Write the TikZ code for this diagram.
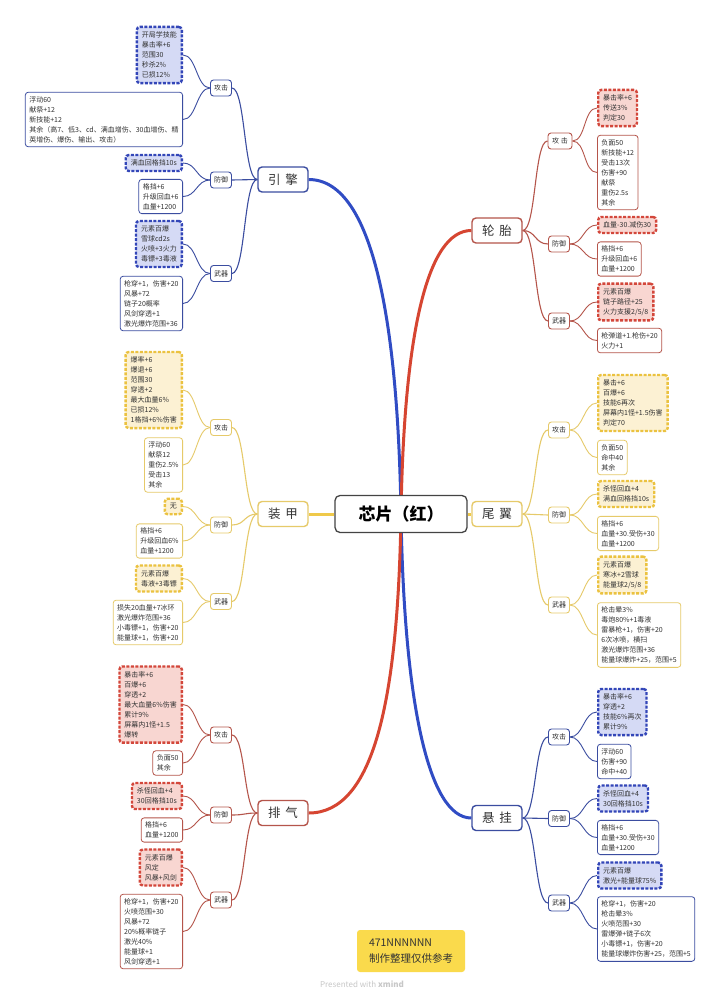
\documentclass[tikz,border=0pt]{standalone}
\usepackage{fontspec}
\setmainfont{Noto Sans CJK SC}
\usetikzlibrary{backgrounds}
\definecolor{bmain}{HTML}{304CC4}
\definecolor{bline}{HTML}{3B4DA0}
\definecolor{bdash}{HTML}{3346B8}
\definecolor{bfill}{HTML}{D5DAF5}
\definecolor{rmain}{HTML}{D64531}
\definecolor{rline}{HTML}{B5554B}
\definecolor{rdash}{HTML}{D3473B}
\definecolor{rfill}{HTML}{F8D6D1}
\definecolor{ymain}{HTML}{EFC94A}
\definecolor{yline}{HTML}{E6CA6A}
\definecolor{ydash}{HTML}{EBC240}
\definecolor{yfill}{HTML}{FCF1D3}
\definecolor{txt}{HTML}{333333}
\definecolor{notey}{HTML}{FADA4C}
\definecolor{cborder}{HTML}{444444}
\newcommand\Lc[2]{\draw (#1.west) .. controls +(-13.5,0) and +(13.5,0) .. (#2.east);}
\newcommand\Rc[2]{\draw (#1.east) .. controls +(13.5,0) and +(-13.5,0) .. (#2.west);}
\tikzset{
  lf/.style={draw, rounded corners=3pt, fill=white, line width=0.8pt, inner xsep=4pt, inner ysep=4pt, align=left, font=\fontsize{7}{10}\selectfont, text=txt},
  hotbox/.style={lf, dash pattern=on 3pt off 1.5pt, line width=2.4pt, inner xsep=5pt, inner ysep=4.8pt},
  subbox/.style={draw, rounded corners=3pt, fill=white, line width=0.9pt, minimum width=21pt, minimum height=16pt, inner sep=1pt, font=\fontsize{7}{8}\selectfont, text=txt},
  brbox/.style={draw, rounded corners=4pt, fill=white, line width=1.4pt, minimum width=50pt, minimum height=25pt, inner sep=1pt, font=\fontsize{12.5}{14}\selectfont, text=txt},
  bl/.style={lf, draw=bline}, bh/.style={hotbox, draw=bdash, fill=bfill},
  rl/.style={lf, draw=rline}, rh/.style={hotbox, draw=rdash, fill=rfill},
  yl/.style={lf, draw=yline}, yh/.style={hotbox, draw=ydash, fill=yfill},
  bs/.style={subbox, draw=bline}, rs/.style={subbox, draw=rline}, ys/.style={subbox, draw=yline},
  bb/.style={brbox, draw=bline}, rb/.style={brbox, draw=rline}, yb/.style={brbox, draw=yline},
  mainc/.style={line width=3pt},
  brc/.style={line width=1.1pt},
  lfc/.style={line width=0.9pt},
}
\begin{document}
\begin{tikzpicture}[x=1pt,y=-1pt]
\useasboundingbox (0,0) rectangle (720,999);

% center
\node[draw=cborder, line width=1.3pt, rounded corners=5pt, fill=white, minimum width=132pt, minimum height=37pt, font=\fontsize{17}{20}\selectfont\bfseries, text=black] (c) at (401,514) {芯片（红）};

% branches
\node[bb] (eng) at (283,179.5) {引\hspace{0.4em}擎};
\node[yb] (arm) at (283,514) {装\hspace{0.4em}甲};
\node[rb] (exh) at (283,813) {排\hspace{0.4em}气};
\node[rb] (tire) at (497,230.5) {轮\hspace{0.4em}胎};
\node[yb] (wing) at (497,514) {尾\hspace{0.4em}翼};
\node[bb] (susp) at (497,818) {悬\hspace{0.4em}挂};

% subs left
\node[bs] (eA) at (221,88) {攻击};
\node[bs] (eD) at (221,180) {防御};
\node[bs] (eW) at (221,273.5) {武器};
\node[ys] (aA) at (221,427.5) {攻击};
\node[ys] (aD) at (221,525) {防御};
\node[ys] (aW) at (221,601.5) {武器};
\node[rs] (xA) at (221,735) {攻击};
\node[rs] (xD) at (221,815) {防御};
\node[rs] (xW) at (221,900) {武器};
% subs right
\node[rs, minimum width=24pt] (tA) at (560,141) {攻\hspace{0.25em}击};
\node[rs] (tD) at (559,244) {防御};
\node[rs] (tW) at (559,321) {武器};
\node[ys] (wA) at (559,430) {攻击};
\node[ys] (wD) at (559,515) {防御};
\node[ys] (wW) at (559,605) {武器};
\node[bs] (sA) at (559,737) {攻击};
\node[bs] (sD) at (559,818.5) {防御};
\node[bs] (sW) at (559,903) {武器};

% leaves engine
\node[bh, anchor=east] (ea1) at (183,55) {开局学技能\\暴击率+6\\范围30\\秒杀2\%\\已损12\%};
\node[bl, anchor=east] (ea2) at (183,119.5) {浮动60\\献祭+12\\新技能+12\\其余（高7、低3、cd、满血增伤、30血增伤、精\\英增伤、爆伤、输出、攻击）};
\node[bh, anchor=east] (ed1) at (183,163) {满血回格挡10s};
\node[bl, anchor=east] (ed2) at (183,196.5) {格挡+6\\升级回血+6\\血量+1200};
\node[bh, anchor=east] (ew1) at (183,244) {元素百爆\\雪球cd2s\\火喷+3火力\\毒镖+3毒液};
\node[bl, anchor=east] (ew2) at (183,303.5) {枪穿+1，伤害+20\\风暴+72\\链子20概率\\风剑穿透+1\\激光爆炸范围+36};

% leaves armor
\node[yh, anchor=east] (aa1) at (183,390) {爆率+6\\爆退+6\\范围30\\穿透+2\\最大血量6\%\\已损12\%\\1格挡+6\%伤害};
\node[yl, anchor=east] (aa2) at (183,465) {浮动60\\献祭12\\重伤2.5\%\\受击13\\其余};
\node[yh, anchor=east] (ad1) at (183,506.5) {无};
\node[yl, anchor=east] (ad2) at (183,541) {格挡+6\\升级回血6\%\\血量+1200};
\node[yh, anchor=east] (aw1) at (183,578.5) {元素百爆\\毒液+3毒镖};
\node[yl, anchor=east] (aw2) at (183,622.5) {损失20血量+7冰环\\激光爆炸范围+36\\小毒镖+1，伤害+20\\能量球+1，伤害+20};

% leaves exhaust
\node[rh, anchor=east] (xa1) at (183,704.5) {暴击率+6\\百爆+6\\穿透+2\\最大血量6\%伤害\\累计9\%\\屏幕内1怪+1.5\\爆转};
\node[rl, anchor=east] (xa2) at (183,763) {负面50\\其余};
\node[rh, anchor=east] (xd1) at (183,796) {杀怪回血+4\\30回格挡10s};
\node[rl, anchor=east] (xd2) at (183,830) {格挡+6\\血量+1200};
\node[rh, anchor=east] (xw1) at (183,867.5) {元素百爆\\风定\\风暴+风剑};
\node[rl, anchor=east] (xw2) at (183,931.5) {枪穿+1，伤害+20\\火喷范围+30\\风暴+72\\20\%概率链子\\激光40\%\\能量球+1\\风剑穿透+1};

% leaves tire
\node[rh, anchor=west] (ta1) at (597,108) {暴击率+6\\传送3\%\\判定30};
\node[rl, anchor=west] (ta2) at (597,172.5) {负面50\\新技能+12\\受击13次\\伤害+90\\献祭\\重伤2.5s\\其余};
\node[rh, anchor=west] (td1) at (597,225) {血量-30.减伤30};
\node[rl, anchor=west] (td2) at (597,259) {格挡+6\\升级回血+6\\血量+1200};
\node[rh, anchor=west] (tw1) at (597,302) {元素百爆\\链子路径+25\\火力支援2/5/8};
\node[rl, anchor=west] (tw2) at (597,340.5) {枪弹道+1.枪伤+20\\火力+1};

% leaves wing
\node[yh, anchor=west] (wa1) at (597,403) {暴击+6\\百爆+6\\技能6再次\\屏幕内1怪+1.5伤害\\判定70};
\node[yl, anchor=west] (wa2) at (597,457.5) {负面50\\命中40\\其余};
\node[yh, anchor=west] (wd1) at (597,494) {杀怪回血+4\\满血回格挡10s};
\node[yl, anchor=west] (wd2) at (597,533.5) {格挡+6\\血量+30.受伤+30\\血量+1200};
\node[yh, anchor=west] (ww1) at (597,575) {元素百爆\\寒冰+2雪球\\能量球2/5/8};
\node[yl, anchor=west] (ww2) at (597,635) {枪击晕3\%\\毒炮80\%+1毒液\\雷暴枪+1，伤害+20\\6次冰喷，横扫\\激光爆炸范围+36\\能量球爆炸+25，范围+5};

% leaves suspension
\node[bh, anchor=west] (sa1) at (597,712) {暴击率+6\\穿透+2\\技能6\%再次\\累计9\%};
\node[bl, anchor=west] (sa2) at (597,761.5) {浮动60\\伤害+90\\命中+40};
\node[bh, anchor=west] (sd1) at (597,798.5) {杀怪回血+4\\30回格挡10s};
\node[bl, anchor=west] (sd2) at (597,837.5) {格挡+6\\血量+30.受伤+30\\血量+1200};
\node[bh, anchor=west] (sw1) at (597,875.5) {元素百爆\\激光+能量球75\%};
\node[bl, anchor=west] (sw2) at (597,929) {枪穿+1，伤害+20\\枪击晕3\%\\火喷范围+30\\雷爆弹+链子6次\\小毒镖+1，伤害+20\\能量球爆炸伤害+25，范围+5};

% note and footer
\node[fill=notey, rounded corners=3pt, minimum width=108pt, minimum height=42pt, align=left, inner xsep=7pt, font=\fontsize{10.5}{16}\selectfont, text=txt] (note) at (411,951) {471NNNNNN\\制作整理仅供参考};
\node[font=\fontsize{8}{9}\selectfont, text=black!22] (pw) at (362,984) {Presented with \textbf{xmind}};

\begin{scope}[on background layer]
  \fill[white] (0,0) rectangle (720,999);
  % main connectors
  \draw[mainc, bmain] (eng.east) .. controls (375,179.5) and (398,330) .. (c.center);
  \draw[mainc, bmain] (c.center) .. controls (404,700) and (428,818) .. (susp.west);
  \draw[mainc, rmain] (tire.west) .. controls (428,230.5) and (404,330) .. (c.center);
  \draw[mainc, rmain] (c.center) .. controls (398,700) and (374,813) .. (exh.east);
  \draw[mainc, ymain] (arm.east) -- (c.west);
  \draw[mainc, ymain] (c.east) -- (wing.west);
  % branch to sub
  \begin{scope}[brc, bline]
    \Lc{eng}{eA} \Lc{eng}{eD} \Lc{eng}{eW}
    \Rc{susp}{sA} \Rc{susp}{sD} \Rc{susp}{sW}
  \end{scope}
  \begin{scope}[brc, rline]
    \Lc{exh}{xA} \Lc{exh}{xD} \Lc{exh}{xW}
    \Rc{tire}{tA} \Rc{tire}{tD} \Rc{tire}{tW}
  \end{scope}
  \begin{scope}[brc, yline]
    \Lc{arm}{aA} \Lc{arm}{aD} \Lc{arm}{aW}
    \Rc{wing}{wA} \Rc{wing}{wD} \Rc{wing}{wW}
  \end{scope}
  % sub to leaf
  \begin{scope}[lfc, bline]
    \Lc{eA}{ea1} \Lc{eA}{ea2} \Lc{eD}{ed1} \Lc{eD}{ed2} \Lc{eW}{ew1} \Lc{eW}{ew2}
    \Rc{sA}{sa1} \Rc{sA}{sa2} \Rc{sD}{sd1} \Rc{sD}{sd2} \Rc{sW}{sw1} \Rc{sW}{sw2}
  \end{scope}
  \begin{scope}[lfc, rline]
    \Lc{xA}{xa1} \Lc{xA}{xa2} \Lc{xD}{xd1} \Lc{xD}{xd2} \Lc{xW}{xw1} \Lc{xW}{xw2}
    \Rc{tA}{ta1} \Rc{tA}{ta2} \Rc{tD}{td1} \Rc{tD}{td2} \Rc{tW}{tw1} \Rc{tW}{tw2}
  \end{scope}
  \begin{scope}[lfc, yline]
    \Lc{aA}{aa1} \Lc{aA}{aa2} \Lc{aD}{ad1} \Lc{aD}{ad2} \Lc{aW}{aw1} \Lc{aW}{aw2}
    \Rc{wA}{wa1} \Rc{wA}{wa2} \Rc{wD}{wd1} \Rc{wD}{wd2} \Rc{wW}{ww1} \Rc{wW}{ww2}
  \end{scope}
\end{scope}
\end{tikzpicture}
\end{document}
